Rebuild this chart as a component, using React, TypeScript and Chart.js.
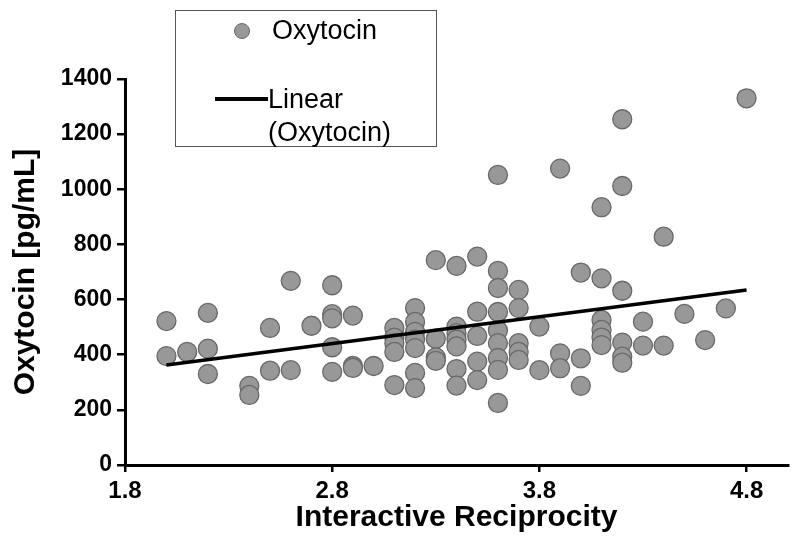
import React, { useEffect, useRef } from "react";
import { Chart, registerables } from "chart.js";

Chart.register(...registerables);

// Interactive reciprocity (x) and oxytocin pg/mL (y)
const xValues: number[] = [
  2.0, 2.0,
  2.1,
  2.2, 2.2, 2.2,
  2.4, 2.4,
  2.5, 2.5,
  2.6, 2.6,
  2.7,
  2.8, 2.8, 2.8, 2.8, 2.8,
  2.9, 2.9, 2.9,
  3.0,
  3.1, 3.1, 3.1, 3.1, 3.1,
  3.2, 3.2, 3.2, 3.2, 3.2, 3.2, 3.2,
  3.3, 3.3, 3.3, 3.3,
  3.4, 3.4, 3.4, 3.4, 3.4, 3.4, 3.4,
  3.5, 3.5, 3.5, 3.5, 3.5,
  3.6, 3.6, 3.6, 3.6, 3.6, 3.6, 3.6, 3.6, 3.6,
  3.7, 3.7, 3.7, 3.7, 3.7,
  3.8, 3.8,
  3.9, 3.9, 3.9,
  4.0, 4.0, 4.0,
  4.1, 4.1, 4.1, 4.1, 4.1, 4.1,
  4.2, 4.2, 4.2, 4.2, 4.2, 4.2,
  4.3, 4.3,
  4.4, 4.4,
  4.5,
  4.6,
  4.7,
  4.8,
];
const oxytocinValues: number[] = [
  522, 395,
  410,
  552, 422, 330,
  287, 254,
  497, 342,
  668, 344,
  505,
  652, 547, 532, 427, 338,
  542, 359, 352,
  359,
  497, 462, 442, 410, 290,
  569, 519, 483, 455, 424, 334, 279,
  743, 458, 390, 378,
  722, 502, 478, 455, 430, 348, 288,
  756, 556, 468, 375, 308,
  1052, 704, 642, 555, 488, 442, 388, 345, 225,
  635, 569, 442, 410, 381,
  502, 344,
  1075, 405, 351,
  698, 387, 287,
  935, 677, 526, 490, 462, 435,
  1254, 1012, 632, 444, 393, 371,
  520, 433,
  828, 433,
  548,
  453,
  568,
  1330,
];

// Linear trend endpoints
const trendX: number[] = [2.0, 4.8];
const trendY: number[] = [363, 635];

const xTickValues: number[] = [1.8, 2.8, 3.8, 4.8];
const yTickValues: number[] = [0, 200, 400, 600, 800, 1000, 1200, 1400];

const seriesName = "Oxytocin";
const trendName = ["Linear", "(Oxytocin)"];
const xTitle = "Interactive Reciprocity";
const yTitle = "Oxytocin [pg/mL]";

const POINT_FILL = "rgb(152,152,152)";
const POINT_BORDER = "rgb(105,105,105)";
const TICK_FONT = "'Liberation Sans', Arial, sans-serif";
const TITLE_FONT = "'Liberation Sans', Arial, sans-serif";

export default function App() {
  const canvasRef = useRef<HTMLCanvasElement | null>(null);

  useEffect(() => {
    if (!canvasRef.current) return;
    const points = xValues.map((x, i) => ({ x, y: oxytocinValues[i] }));
    const trend = trendX.map((x, i) => ({ x, y: trendY[i] }));

    const chart = new Chart(canvasRef.current, {
      type: "scatter",
      data: {
        datasets: [
          {
            type: "line",
            label: trendName.join(" "),
            data: trend,
            borderColor: "#000",
            borderWidth: 3.5,
            pointRadius: 0,
            showLine: true,
            fill: false,
          } as any,
          {
            label: seriesName,
            data: points,
            pointRadius: 9.5,
            pointHoverRadius: 9.5,
            backgroundColor: POINT_FILL,
            borderColor: POINT_BORDER,
            borderWidth: 1.3,
          },
        ],
      },
      options: {
        animation: false,
        responsive: false,
        layout: { padding: { top: 79, right: 12, left: 0, bottom: 0 } },
        plugins: {
          legend: { display: false },
          tooltip: { enabled: false },
        },
        scales: {
          x: {
            type: "linear",
            min: 1.8,
            max: 5.0,
            afterBuildTicks: (scale: any) => {
              scale.ticks = xTickValues.map((v) => ({ value: v }));
            },
            afterFit: (scale: any) => {
              scale.height = 93;
            },
            ticks: {
              color: "#000",
              font: { family: TICK_FONT, size: 24, weight: "bold" },
              padding: 5,
              callback: (v: any) => Number(v).toFixed(1),
            },
            grid: {
              display: true,
              drawOnChartArea: false,
              drawTicks: true,
              tickLength: 7,
              color: "#000",
              lineWidth: 2.5,
            },
            border: { display: true, color: "#000", width: 3 },
            title: {
              display: true,
              text: xTitle,
              color: "#000",
              font: { family: TITLE_FONT, size: 30, weight: "bold" },
              padding: { top: 0, bottom: 22 },
            },
          },
          y: {
            type: "linear",
            min: 0,
            max: 1400,
            afterBuildTicks: (scale: any) => {
              scale.ticks = yTickValues.map((v) => ({ value: v }));
            },
            afterFit: (scale: any) => {
              scale.width = 125;
            },
            ticks: {
              color: "#000",
              font: { family: TICK_FONT, size: 23, weight: "bold" },
              padding: 5,
              callback: (v: any) => String(v),
            },
            grid: {
              display: true,
              drawOnChartArea: false,
              drawTicks: true,
              tickLength: 8,
              color: "#000",
              lineWidth: 2.5,
            },
            border: { display: true, color: "#000", width: 3 },
            title: {
              display: true,
              text: yTitle,
              color: "#000",
              font: { family: TITLE_FONT, size: 30, weight: "bold" },
              padding: { top: 8, bottom: 0 },
            },
          },
        },
      },
    });
    return () => chart.destroy();
  }, []);

  const legendFont = "'Liberation Sans', Arial, sans-serif";

  return (
    <div style={{ position: "absolute", left: 0, top: 0, width: 800, height: 558, background: "#fff" }}>
      <canvas ref={canvasRef} width={800} height={558} style={{ display: "block" }} />
      <div
        style={{
          position: "absolute",
          left: 175,
          top: 10,
          width: 262,
          height: 137,
          border: "1.5px solid #555",
          background: "#fff",
          boxSizing: "border-box",
          fontFamily: legendFont,
          fontSize: 27,
          color: "#000",
        }}
      >
        <div
          style={{
            position: "absolute",
            left: 58,
            top: 12,
            width: 16,
            height: 16,
            borderRadius: "50%",
            background: POINT_FILL,
            border: `1px solid ${POINT_BORDER}`,
            boxSizing: "border-box",
          }}
        />
        <div style={{ position: "absolute", left: 96, top: 3, lineHeight: "33px", whiteSpace: "nowrap" }}>
          {seriesName}
        </div>
        <div
          style={{
            position: "absolute",
            left: 39,
            top: 86,
            width: 53,
            height: 3.5,
            background: "#000",
          }}
        />
        <div style={{ position: "absolute", left: 92, top: 72, lineHeight: "33px", whiteSpace: "nowrap" }}>
          {trendName[0]}
          <br />
          {trendName[1]}
        </div>
      </div>
    </div>
  );
}
